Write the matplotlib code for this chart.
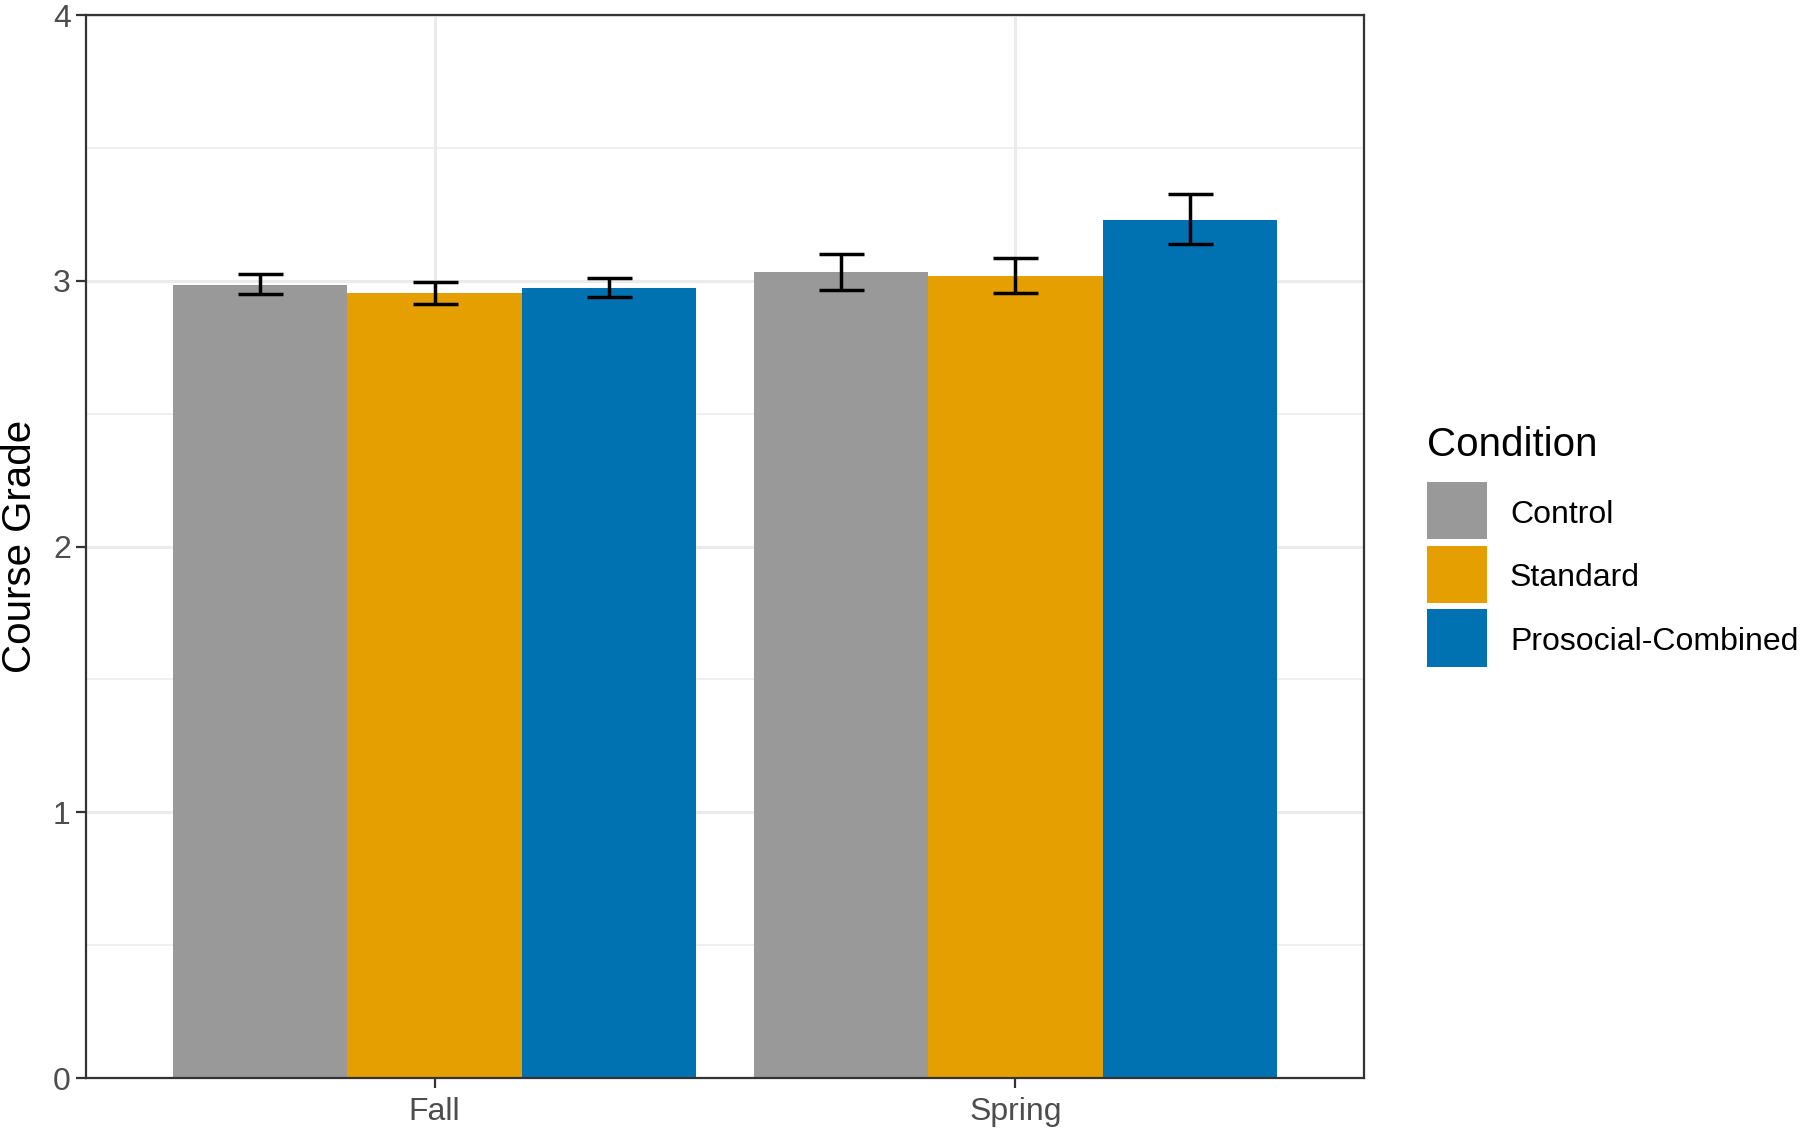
import numpy as np
import matplotlib.pyplot as plt
from matplotlib.patches import Rectangle

# Values
terms = ["Fall", "Spring"]
conditions = ["Control", "Standard", "Prosocial-Combined"]
colors = ["#999999", "#E69F00", "#0072B2"]

grade_mean = {
    "Control": [2.984, 3.032],
    "Standard": [2.953, 3.018],
    "Prosocial-Combined": [2.971, 3.229],
}
grade_low = {
    "Control": [2.950, 2.965],
    "Standard": [2.912, 2.953],
    "Prosocial-Combined": [2.939, 3.138],
}
grade_high = {
    "Control": [3.025, 3.102],
    "Standard": [2.994, 3.087],
    "Prosocial-Combined": [3.010, 3.326],
}

plt.rcParams["font.family"] = ["Liberation Sans", "DejaVu Sans"]

W, H = 1800, 1130
fig = plt.figure(figsize=(W / 100, H / 100), dpi=100)
ax = fig.add_axes([0.0478, 0.046, 0.710, 0.9407])

x = np.arange(1, len(terms) + 1)
width = 0.3
for k, cond in enumerate(conditions):
    pos = x + (k - 1) * width
    mean = np.array(grade_mean[cond])
    low = np.array(grade_low[cond])
    high = np.array(grade_high[cond])
    ax.bar(pos, mean, width=width, color=colors[k], zorder=2, label=cond)
    ax.errorbar(pos, mean, yerr=[mean - low, high - mean], fmt="none",
                ecolor="black", elinewidth=2.5, capsize=16.2, capthick=2.5,
                zorder=3)

ax.set_xlim(0.4, 2.6)
ax.set_ylim(0, 4)
ax.set_xticks(x)
ax.set_xticklabels(terms)
ax.set_yticks([0, 1, 2, 3, 4])
ax.set_yticks([0.5, 1.5, 2.5, 3.5], minor=True)

ax.grid(True, which="major", color="#EBEBEB", linewidth=2.2, zorder=0)
ax.grid(True, which="minor", axis="y", color="#EBEBEB", linewidth=1.1, zorder=0)
ax.set_axisbelow(True)

for s in ax.spines.values():
    s.set_color("#333333")
    s.set_linewidth(1.6)
    s.set_zorder(4)

ax.tick_params(axis="both", which="major", colors="#333333", labelcolor="#4D4D4D",
               labelsize=23, length=7, width=1.6, pad=4)
ax.tick_params(axis="x", which="major", pad=7)
ax.tick_params(axis="both", which="minor", length=0)

ax.set_ylabel("Course Grade", fontsize=29, labelpad=10)

# ggplot-style legend drawn by hand (pixel layout)
key_x, key_w, key_h = 1427, 59.5, 57.7
first_top, pitch = 481.7, 63.8
fig.text(key_x / W, 1 - 455.7 / H, "Condition", fontsize=29,
         va="baseline", ha="left")
for k, cond in enumerate(conditions):
    top = first_top + k * pitch
    fig.add_artist(Rectangle((key_x / W, 1 - (top + key_h) / H), key_w / W,
                             key_h / H, transform=fig.transFigure,
                             facecolor=colors[k], edgecolor="none"))
    fig.text(1510 / W, 1 - (top + 41) / H, cond, fontsize=23,
             va="baseline", ha="left")

fig.savefig("out.png", dpi=100)
